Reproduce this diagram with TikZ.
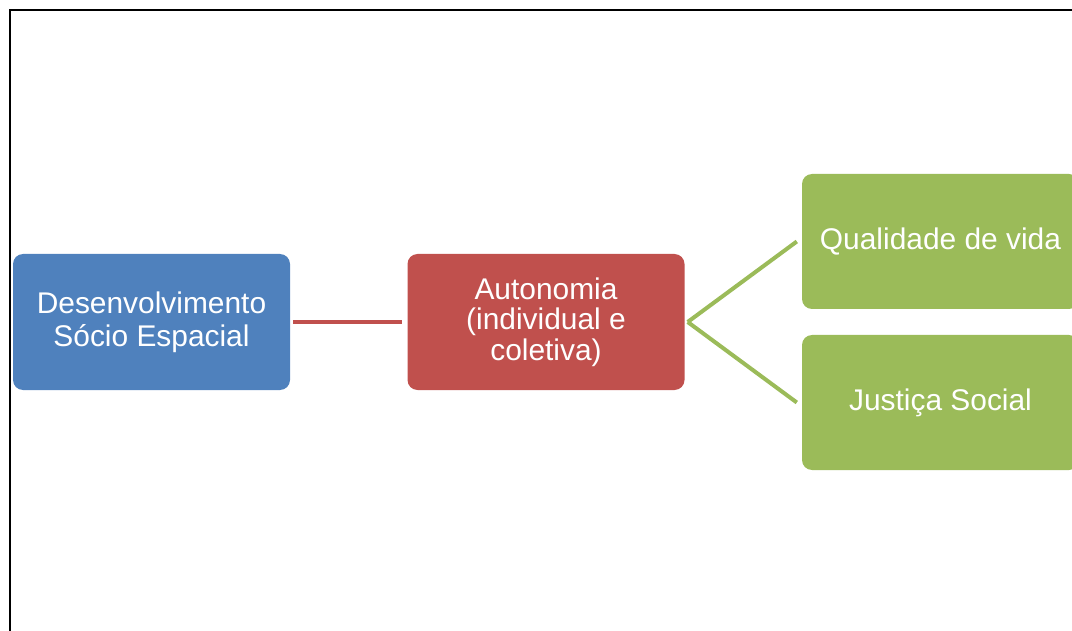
\documentclass[tikz,border=0pt]{standalone}
\usepackage{fontspec}
\setmainfont{Liberation Sans}
\definecolor{cblue}{HTML}{4F81BD}
\definecolor{cred}{HTML}{C0504D}
\definecolor{cgreen}{HTML}{9BBB59}
\begin{document}
\begin{tikzpicture}[x=1pt,y=-1pt,
  box/.style={rounded corners=10pt, minimum width=277pt, minimum height=136pt, inner sep=0pt, text=white, align=center,
    font=\fontsize{29.9}{33}\selectfont},
  link/.style={line width=4pt}]
\useasboundingbox (0,0) rectangle (1072,631);
\clip (0,0) rectangle (1072,631);
\draw[line width=2.8pt] (10,631) -- (10,10) -- (1080,10);
\node[box, fill=cblue] (a) at (151.5,322) {Desenvolvimento\\Sócio Espacial};
\node[box, fill=cred, font=\fontsize{29.9}{30.5}\selectfont] (b) at (546,322) {Autonomia\\(individual e\\coletiva)};
\node[box, fill=cgreen, minimum height=135pt] (c) at (940.5,241.5) {Qualidade de vida};
\node[box, fill=cgreen, minimum height=135pt] (d) at (940.5,402.5) {Justiça Social};
\draw[link, cred] ([xshift=3pt]a.east) -- ([xshift=-5pt]b.east -| b.west);
\coordinate (j) at ([xshift=3pt]b.east);
\draw[link, cgreen] (j) -- ([xshift=-5pt]c.west);
\draw[link, cgreen] (j) -- ([xshift=-5pt]d.west);
\end{tikzpicture}
\end{document}
